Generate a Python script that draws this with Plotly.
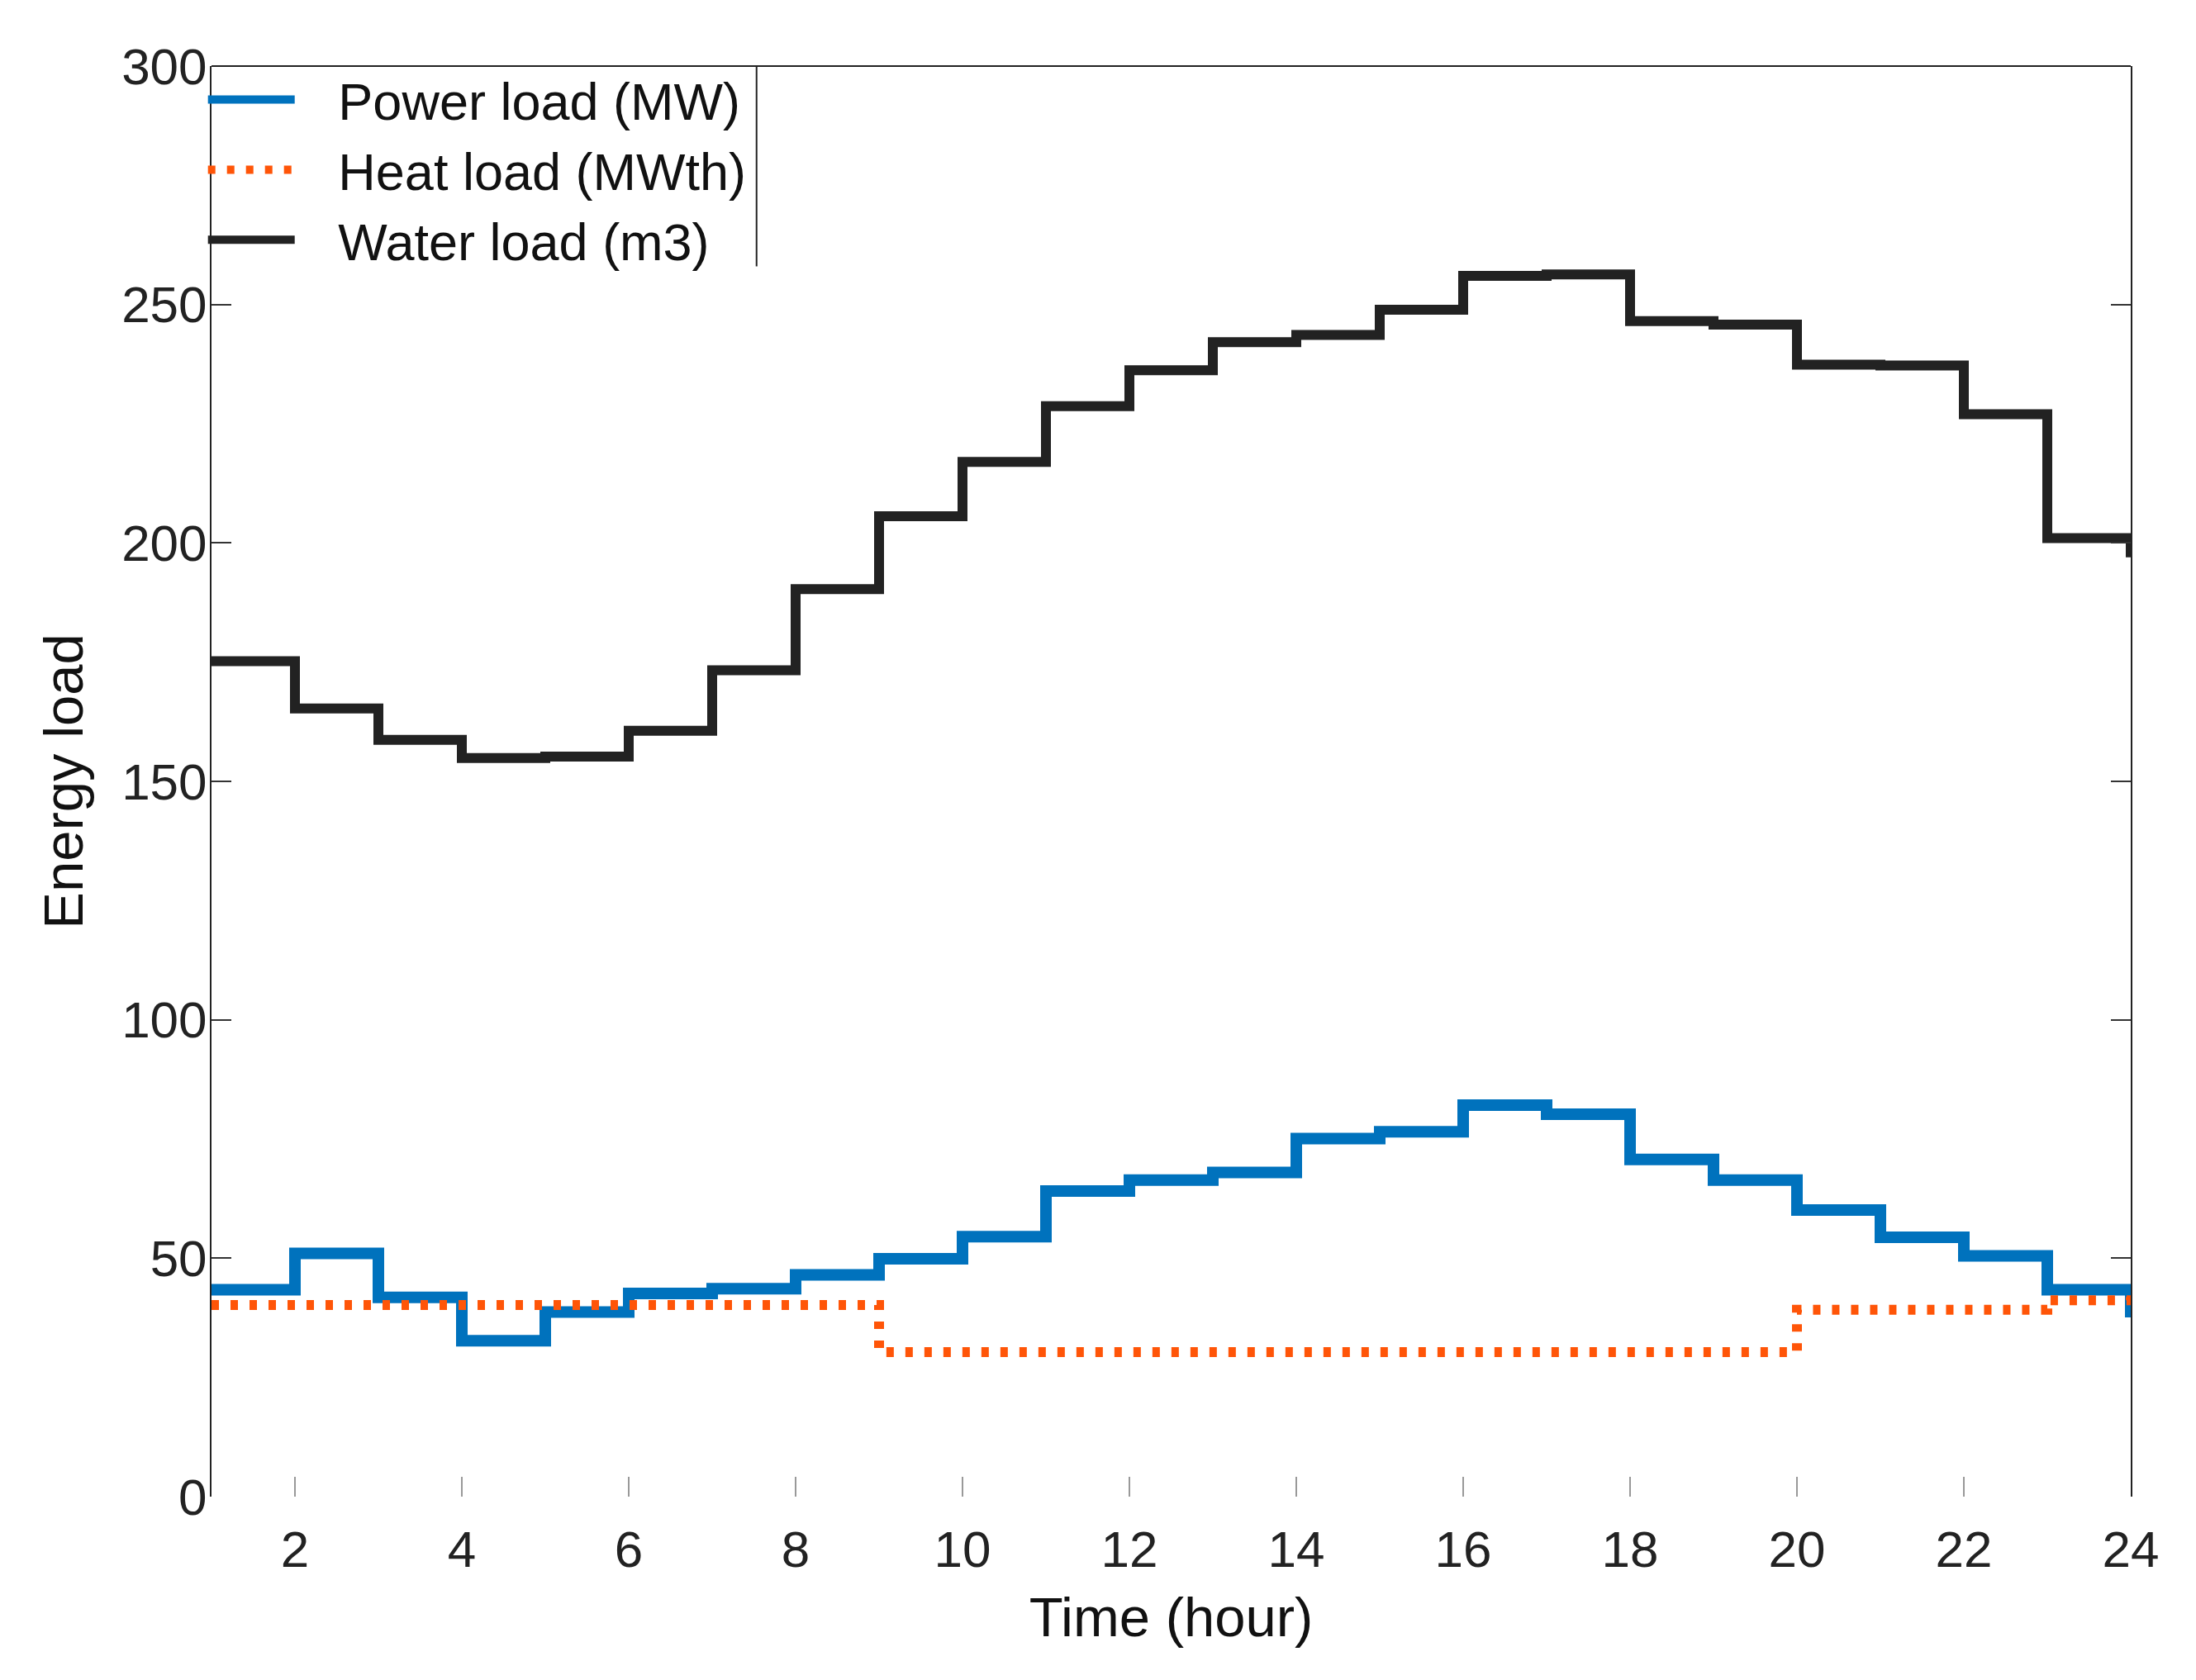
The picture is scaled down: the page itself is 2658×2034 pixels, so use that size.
import plotly.graph_objects as go

hours = list(range(1, 25))
power_load = [43.4, 51.0, 41.8, 32.7, 38.7, 42.6, 43.6, 46.5, 49.9, 54.5, 64.1, 66.4,
              68.0, 75.1, 76.5, 82.1, 80.2, 70.7, 66.4, 60.1, 54.4, 50.5, 43.4, 37.6]
heat_load = [40.2, 40.2, 40.2, 40.2, 40.2, 40.2, 40.2, 40.2, 30.3, 30.3, 30.3, 30.3,
             30.3, 30.3, 30.3, 30.3, 30.3, 30.3, 30.3, 39.2, 39.2, 39.2, 41.2, 42.0]
water_load = [175.2, 165.3, 158.7, 154.9, 155.2, 160.6, 173.3, 190.3, 205.6, 217.0, 228.7, 236.2,
              242.1, 243.6, 248.9, 256.0, 256.3, 246.5, 245.8, 237.4, 237.2, 227.0, 201.0, 197.0]
series_names = ["Power load (MW)", "Heat load (MWth)", "Water load (m3)"]
x_ticks = [2, 4, 6, 8, 10, 12, 14, 16, 18, 20, 22, 24]
y_ticks = [0, 50, 100, 150, 200, 250, 300]

FONT = "Liberation Sans, Arial, sans-serif"
PAD = "\u00a0\u00a0\u2009"

fig = go.Figure()
fig.add_trace(go.Scatter(x=hours, y=power_load, mode="lines", line_shape="hv",
                         name=PAD + series_names[0], line=dict(color="#0072BD", width=14)))
fig.add_trace(go.Scatter(x=hours, y=heat_load, mode="lines", line_shape="hv",
                         name=PAD + series_names[1], line=dict(color="#FF5508", width=12, dash="9px,14px")))
fig.add_trace(go.Scatter(x=hours, y=water_load, mode="lines", line_shape="hv",
                         name=PAD + series_names[2], line=dict(color="#222222", width=12)))

fig.update_layout(
    width=2642, height=2018,
    margin=dict(l=248, r=71, t=72, b=214),
    paper_bgcolor="white", plot_bgcolor="white",
    font=dict(family=FONT, size=62, color="#222222"),
    showlegend=True,
    legend=dict(x=-0.004, y=1.004, xanchor="left", yanchor="top", bgcolor="rgba(0,0,0,0)",
                borderwidth=0, font=dict(size=63, color="#111111"),
                itemwidth=105, tracegroupgap=0),
    xaxis=dict(range=[1, 24], tickvals=x_ticks, ticks="inside", ticklen=24,
               tickcolor="#999999", tickwidth=2, showline=False, showgrid=False,
               zeroline=False, ticklabelstandoff=22,
               tickfont=dict(size=62, color="#222222"),
               title=dict(text="Time (hour)", font=dict(size=67, color="#111111"), standoff=25)),
    yaxis=dict(range=[0, 300], tickvals=y_ticks, ticks="inside", ticklen=24,
               tickcolor="#333333", tickwidth=2, showline=True, linecolor="#222222",
               linewidth=2, mirror="ticks", showgrid=False, zeroline=False,
               ticklabelstandoff=-9, tickfont=dict(size=62, color="#222222"),
               title=dict(text="Energy load", font=dict(size=67, color="#111111"), standoff=25)),
    shapes=[
        dict(type="line", xref="paper", yref="paper", x0=0, x1=1, y0=1, y1=1,
             line=dict(color="#222222", width=2)),
        dict(type="line", xref="paper", yref="paper", x0=0.284, x1=0.284, y0=1, y1=0.860,
             line=dict(color="#222222", width=2)),
    ],
)

fig.write_html("out.html")
